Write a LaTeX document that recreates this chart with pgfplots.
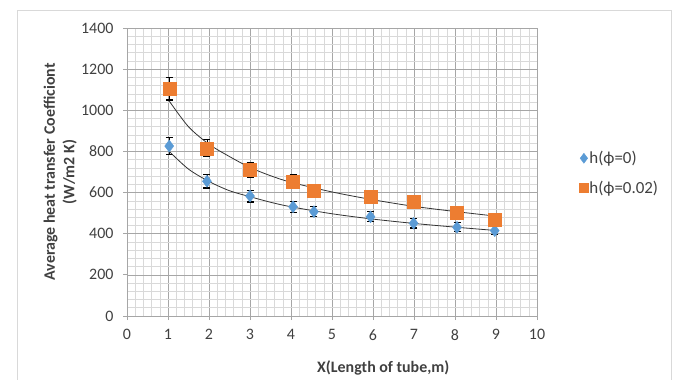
\documentclass[border=0pt]{standalone}
\usepackage{pgfplots}
\pgfplotsset{compat=1.18}
\usepackage{fontspec}
\setmainfont{Carlito}
\definecolor{sblue}{HTML}{5B9BD5}
\definecolor{sorange}{HTML}{ED7D31}
\definecolor{majgrid}{HTML}{A6A6A6}
\definecolor{mingrid}{HTML}{D9D9D9}
\definecolor{txt}{HTML}{404040}
\begin{document}
\begin{tikzpicture}
\begin{axis}[
  scale only axis, width=410bp, height=288bp,
  at={(127bp,64bp)}, anchor=south west,
  xmin=0, xmax=10, ymin=0, ymax=1400,
  xtick={0,1,...,10}, ytick={0,200,...,1400},
  minor x tick num=4, minor y tick num=4,
  grid=both,
  major grid style={majgrid, line width=0.6pt},
  minor grid style={mingrid, line width=0.6pt},
  axis lines=left,
  axis line style={majgrid, line width=0.8pt, -},
  tick align=outside,
  major tick length=4bp, minor tick length=0pt,
  tick style={majgrid, line width=0.8pt},
  /pgf/number format/assume math mode=true,
  /pgf/number format/1000 sep={},
  tick label style={font=\fontsize{16}{18}\selectfont, text=txt},
  xticklabel style={yshift=-6bp},
  yticklabel style={xshift=-6bp},
  xlabel={X(Length of tube,m)},
  xlabel style={at={(axis description cs:0.625,-0.18)}, anchor=center, font=\fontsize{16}{18}\selectfont\bfseries, text=txt},
  ylabel={Average heat transfer Coefficiont\\(W/m2 K)},
  ylabel style={at={(axis description cs:-0.163,0.5)}, anchor=center, align=center, font=\fontsize{16}{19.5}\selectfont\bfseries, text=txt},
  legend style={at={(axis description cs:1.103,0.576)}, anchor=north west, draw=none, fill=none,
    font=\fontsize{17}{19}\selectfont, text=txt, row sep=14bp, inner sep=0pt,
    nodes={inner sep=1bp}},
  legend cell align=left,
  error bars/error bar style={black, line width=0.9pt},
  error bars/error mark options={rotate=90, mark size=3.5bp, black, line width=1.1pt},
]
\addplot[only marks, mark=diamond*, mark size=6bp, color=sblue,
  legend image post style={mark size=5bp},
  error bars/.cd, y dir=both, y explicit]
  table[x=x, y=y, y error=e] {
  x y e
  1.03 826 41
  1.95 655 33
  3.00 583 29
  4.05 531 27
  4.56 507 25
  5.94 482 24
  6.99 451 23
  8.05 431 22
  8.97 415 21
  };
\addlegendentry{h(ϕ=0)}
\addplot[only marks, mark=square*, mark size=6.5bp, color=sorange,
  legend image post style={mark size=4.5bp},
  error bars/.cd, y dir=both, y explicit]
  table[x=x, y=y, y error=e] {
  x y e
  1.03 1105 55
  1.95 815 41
  3.00 710 35
  4.05 653 33
  4.56 609 30
  5.94 580 29
  6.99 556 28
  8.05 504 25
  8.97 467 23
  };
\addlegendentry{h(ϕ=0.02)}
\addplot[smooth, black!80, line width=0.8pt, forget plot] coordinates {
  (1.03,800) (1.5,714) (2,654) (2.5,609) (3,580) (3.5,553) (4,531) (5,497)
  (6,471) (7,450) (8,432) (8.97,416)};
\addplot[smooth, black!80, line width=0.8pt, forget plot] coordinates {
  (1.03,1045) (1.5,920) (2,835) (2.5,775) (3,722) (3.5,682) (4,650) (5,603)
  (6,565) (7,533) (8,508) (8.97,486)};
\end{axis}
\draw[mingrid, line width=0.8pt] (17bp,-5bp) rectangle (671bp,370bp);
\pgfresetboundingbox
\useasboundingbox (0,0) rectangle (675bp,380bp);
\end{tikzpicture}
\end{document}
